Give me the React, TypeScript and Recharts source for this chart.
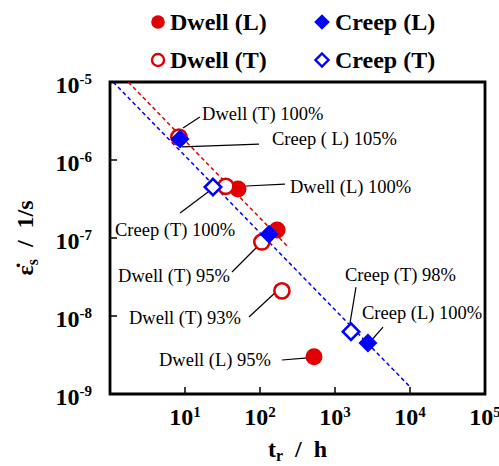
import React from 'react';
import { ScatterChart, Scatter, XAxis, YAxis, ReferenceArea } from 'recharts';

const RED = '#E00000';
const BLUE = '#0000FF';
const FONT = '"Liberation Serif", "Times New Roman", Times, serif';

// tick values
const xTicks = [10, 100, 1000, 10000, 100000];
const yTicks = [1e-9, 1e-8, 1e-7, 1e-6, 1e-5];

// series (x: rupture time h, y: minimum strain rate 1/s)
const dwellL = [
  { x: 50.9, y: 4.25e-7 },
  { x: 169, y: 1.27e-7 },
  { x: 525, y: 3.0e-9 },
];
const dwellT = [
  { x: 8.3, y: 1.97e-6 },
  { x: 35, y: 4.6e-7 },
  { x: 106, y: 8.9e-8 },
  { x: 196, y: 2.1e-8 },
];
const creepL = [
  { x: 8.6, y: 1.86e-6 },
  { x: 132, y: 1.12e-7 },
  { x: 2750, y: 4.5e-9 },
];
const creepT = [
  { x: 23.6, y: 4.5e-7 },
  { x: 1635, y: 6.3e-9 },
];

// dashed trend lines
const redTrend = [
  { x: 1.75, y: 1e-5 },
  { x: 244, y: 7.45e-8 },
];
const blueTrend = [
  { x: 1.1, y: 1e-5 },
  { x: 10300, y: 1.2e-9 },
];

// annotations
const annotationText = [
  'Dwell (T) 100%',
  'Creep ( L) 105%',
  'Dwell (L) 100%',
  'Creep (T) 100%',
  'Dwell (T) 95%',
  'Dwell (T) 93%',
  'Dwell (L) 95%',
  'Creep (T) 98%',
  'Creep (L) 100%',
];
const annotationX = [16.9, 144.5, 251, 1.166, 1.28, 1.79, 4.5, 1360, 2290];
const annotationY = [4.0e-6, 1.86e-6, 4.64e-7, 1.27e-7, 3.26e-8, 9.7e-9, 2.73e-9, 3.36e-8, 1.12e-8];
const leaderFrom = [
  { x: 9.4, y: 2.57e-6 },
  { x: 9.1, y: 1.47e-6 },
  { x: 65, y: 4.64e-7 },
  { x: 8.6, y: 2.09e-7 },
  { x: 42.4, y: 3.66e-8 },
  { x: 71.3, y: 9.7e-9 },
  { x: 196, y: 2.73e-9 },
  { x: 1905, y: 2.35e-8 },
  { x: 4365, y: 7.2e-9 },
];
const leaderTo = [
  { x: 15.8, y: 3.56e-6 },
  { x: 97, y: 1.6e-6 },
  { x: 215, y: 4.92e-7 },
  { x: 20.3, y: 3.89e-7 },
  { x: 91.2, y: 7.67e-8 },
  { x: 163, y: 2.03e-8 },
  { x: 437, y: 2.9e-9 },
  { x: 1585, y: 8.1e-9 },
  { x: 2930, y: 4.64e-9 },
];

const annotationData = annotationText.map((label, i) => ({
  x: annotationX[i],
  y: annotationY[i],
  label,
}));

const exponentOf = (v: number) => `${Math.round(Math.log10(v))}`;

const XTick = (props: any) => {
  const { x, y, payload } = props;
  return (
    <g>
      <line x1={x} y1={y} x2={x} y2={y - 7} stroke="#000" strokeWidth={1.5} />
      <text
        x={x}
        y={y + 31}
        textAnchor="middle"
        fontFamily={FONT}
        style={{ fontFamily: FONT }}
        fontWeight="bold"
        fontSize={24}
        fill="#000"
      >
        10
        <tspan dy={-8} fontSize={15}>
          {exponentOf(payload.value)}
        </tspan>
      </text>
    </g>
  );
};

const YTick = (props: any) => {
  const { x, y, payload } = props;
  return (
    <g>
      <line x1={x} y1={y} x2={x + 7} y2={y} stroke="#000" strokeWidth={1.5} />
      <text
        x={x - 18}
        y={y + 11}
        textAnchor="end"
        fontFamily={FONT}
        style={{ fontFamily: FONT }}
        fontWeight="bold"
        fontSize={24}
        fill="#000"
      >
        10
        <tspan dy={-9} fontSize={15}>
          {exponentOf(payload.value)}
        </tspan>
      </text>
    </g>
  );
};

const diamondPath = (cx: number, cy: number, h: number) =>
  `M${cx},${cy - h}L${cx + h},${cy}L${cx},${cy + h}L${cx - h},${cy}Z`;

const FilledCircle = (p: any) => <circle cx={p.cx} cy={p.cy} r={8.5} fill={RED} />;
const OpenCircle = (p: any) => (
  <circle cx={p.cx} cy={p.cy} r={7.6} fill="#fff" stroke={RED} strokeWidth={2.6} />
);
const FilledDiamond = (p: any) => <path d={diamondPath(p.cx, p.cy, 9.5)} fill={BLUE} />;
const OpenDiamond = (p: any) => (
  <path d={diamondPath(p.cx, p.cy, 8.2)} fill="#fff" stroke={BLUE} strokeWidth={2.6} />
);
const NoShape = () => <g />;
const LabelShape = (p: any) => {
  const label = (p.payload && p.payload.label) ?? p.label;
  return (
    <text
      x={p.cx}
      y={p.cy + 6.5}
      textAnchor="start"
      fontFamily={FONT}
      style={{ fontFamily: FONT }}
      fontSize={18.5}
      fill="#000"
    >
      {label}
    </text>
  );
};

export default function App() {
  return (
    <div
      style={{
        position: 'fixed',
        left: 0,
        top: 0,
        width: 499,
        height: 466,
        background: '#fff',
      }}
    >
      <ScatterChart width={499} height={466} margin={{ top: 82, right: 14, bottom: 0, left: 0 }}>
        <XAxis
          type="number"
          dataKey="x"
          scale="log"
          domain={[1, 100000]}
          allowDataOverflow
          ticks={xTicks}
          tick={(p: any) => <XTick {...p} />}
          tickLine={false}
          axisLine={false}
          tickSize={0}
          tickMargin={0}
          height={72}
          interval={0}
        />
        <YAxis
          type="number"
          dataKey="y"
          scale="log"
          domain={[1e-9, 1e-5]}
          allowDataOverflow
          ticks={yTicks}
          tick={(p: any) => <YTick {...p} />}
          tickLine={false}
          axisLine={false}
          tickSize={0}
          tickMargin={0}
          width={110}
          interval={0}
        />
        <ReferenceArea
          x1={1}
          x2={100000}
          y1={1e-9}
          y2={1e-5}
          fill="none"
          fillOpacity={0}
          stroke="#000"
          strokeWidth={2.8}
          ifOverflow="visible"
        />
        <Scatter
          data={redTrend}
          shape={NoShape}
          line={{ stroke: RED, strokeWidth: 1.5, strokeDasharray: '4 3' }}
          isAnimationActive={false}
        />
        <Scatter
          data={blueTrend}
          shape={NoShape}
          line={{ stroke: BLUE, strokeWidth: 1.5, strokeDasharray: '4 3' }}
          isAnimationActive={false}
        />
        {leaderFrom.map((from, i) => (
          <Scatter
            key={`leader-${i}`}
            data={[from, leaderTo[i]]}
            shape={NoShape}
            line={{ stroke: '#000', strokeWidth: 1.2 }}
            isAnimationActive={false}
          />
        ))}
        <Scatter data={dwellL} shape={FilledCircle} isAnimationActive={false} />
        <Scatter data={dwellT} shape={OpenCircle} isAnimationActive={false} />
        <Scatter data={creepL} shape={FilledDiamond} isAnimationActive={false} />
        <Scatter data={creepT} shape={OpenDiamond} isAnimationActive={false} />
        <Scatter data={annotationData} shape={LabelShape} isAnimationActive={false} />
      </ScatterChart>
      <svg
        width={499}
        height={466}
        style={{ position: 'absolute', left: 0, top: 0, pointerEvents: 'none' }}
      >
        <g fontFamily={FONT} style={{ fontFamily: FONT }} fontWeight="bold" fontSize={24} fill="#000">
          <circle cx={158} cy={22} r={6.8} fill={RED} />
          <text x={170} y={30}>Dwell (L)</text>
          <path d={diamondPath(322, 22, 7.8)} fill={BLUE} />
          <text x={335} y={30}>Creep (L)</text>
          <circle cx={158} cy={60} r={6} fill="#fff" stroke={RED} strokeWidth={2.4} />
          <text x={170} y={68}>Dwell (T)</text>
          <path d={diamondPath(322, 60, 6.5)} fill="#fff" stroke={BLUE} strokeWidth={2.4} />
          <text x={335} y={68}>Creep (T)</text>
          <text x={268} y={457} style={{ whiteSpace: 'pre' }}>
            t
            <tspan fontSize={16} dy={4}>
              r
            </tspan>
            <tspan dy={-4}>{'  /  h'}</tspan>
          </text>
          <text
            transform="translate(33,238) rotate(-90)"
            textAnchor="middle"
            style={{ whiteSpace: 'pre' }}
          >
            {'\u03B5\u0307'}
            <tspan fontSize={16} dy={5}>
              s
            </tspan>
            <tspan dy={-5}>{'  /  1/s'}</tspan>
          </text>
        </g>
      </svg>
    </div>
  );
}
